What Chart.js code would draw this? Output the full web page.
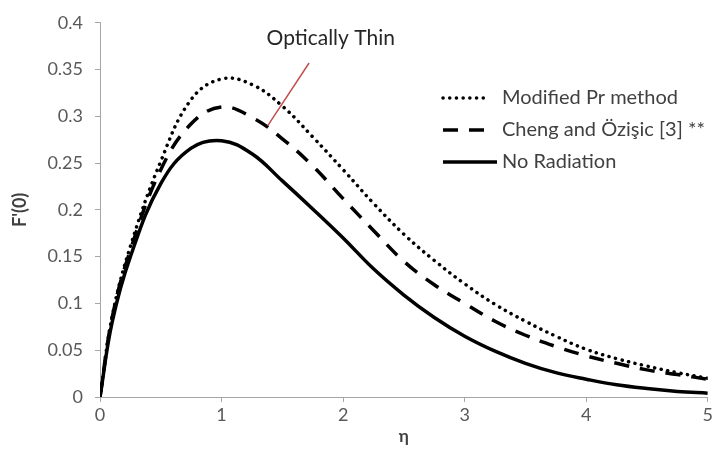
<!DOCTYPE html>
<html>
<head>
<meta charset="utf-8">
<script src="https://cdn.jsdelivr.net/npm/chart.js@4.4.0/dist/chart.umd.min.js"></script>
<style>
  html, body { margin: 0; padding: 0; background: #fff; }
</style>
</head>
<body>
<canvas id="c" width="715" height="451"></canvas>
<script>
// eta values and F'(0)
const eta = [0, 0.1, 0.25, 0.5, 0.75, 1, 1.25, 1.5, 1.75, 2, 2.25, 2.5, 2.75, 3, 3.25, 3.5, 3.75, 4, 4.25, 4.5, 4.75, 5];
const modifiedPr = [0, 0.086, 0.161, 0.252, 0.318, 0.340, 0.334, 0.311, 0.278, 0.243, 0.207, 0.174, 0.146, 0.121, 0.099, 0.081, 0.065, 0.051, 0.041, 0.033, 0.026, 0.020];
const chengOzisic = [0, 0.085, 0.157, 0.243, 0.292, 0.310, 0.299, 0.276, 0.247, 0.212, 0.178, 0.145, 0.120, 0.100, 0.081, 0.066, 0.054, 0.044, 0.036, 0.029, 0.024, 0.019];
const noRadiation = [0, 0.080, 0.150, 0.228, 0.266, 0.274, 0.260, 0.231, 0.201, 0.170, 0.137, 0.109, 0.085, 0.065, 0.049, 0.036, 0.026, 0.019, 0.013, 0.009, 0.006, 0.004];

const seriesNames = ['Modified Pr method', 'Cheng and Özişic [3] **', 'No Radiation'];
const noteText = 'Optically Thin';

const FONT = 'Lato, "Open Sans", sans-serif';

function pts(ys) {
    return eta.map((x, i) => ({x: x, y: ys[i]}));
}

// legend drawn inside the plot, Excel style
const legendPlugin = {
    id: 'xlLegend',
    afterDraw(chart) {
        const ctx = chart.ctx;
        const rows = [98, 130, 162];
        const ends = [488, 492, 497];
        ctx.save();
        chart.data.datasets.forEach((ds, i) => {
            const y = rows[i];
            ctx.beginPath();
            ctx.lineWidth = ds.borderWidth;
            ctx.strokeStyle = ds.borderColor;
            ctx.lineCap = ds.borderCapStyle || 'butt';
            ctx.setLineDash(ds.borderDash || []);
            ctx.moveTo(443, y);
            ctx.lineTo(ends[i], y);
            ctx.stroke();
            ctx.setLineDash([]);
            ctx.fillStyle = '#404040';
            ctx.font = '20px ' + FONT;
            ctx.textBaseline = 'middle';
            ctx.fillText(ds.label, 502, y);
        });
        ctx.restore();
    }
};

// "Optically Thin" pointer
const notePlugin = {
    id: 'note',
    afterDraw(chart) {
        const xs = chart.scales.x, ys = chart.scales.y;
        const ctx = chart.ctx;
        ctx.save();
        ctx.beginPath();
        ctx.strokeStyle = '#c0504d';
        ctx.lineWidth = 1.5;
        ctx.moveTo(xs.getPixelForValue(1.38), ys.getPixelForValue(0.290));
        ctx.lineTo(xs.getPixelForValue(1.72), ys.getPixelForValue(0.357));
        ctx.stroke();
        ctx.fillStyle = '#262626';
        ctx.font = '21px ' + FONT;
        ctx.textBaseline = 'middle';
        ctx.fillText(noteText, xs.getPixelForValue(1.37), ys.getPixelForValue(0.384));
        ctx.restore();
    }
};

const axisGrey = '#a6a6a6';

new Chart(document.getElementById('c'), {
    type: 'scatter',
    data: {
        datasets: [{
            label: seriesNames[0],
            data: pts(modifiedPr),
            showLine: true,
            borderColor: '#000',
            borderWidth: 3.5,
            borderDash: [0.1, 6.6],
            borderCapStyle: 'round',
            pointRadius: 0,
            tension: 0.4
        }, {
            label: seriesNames[1],
            data: pts(chengOzisic),
            showLine: true,
            borderColor: '#000',
            borderWidth: 3.5,
            borderDash: [15, 11],
            pointRadius: 0,
            tension: 0.4
        }, {
            label: seriesNames[2],
            data: pts(noRadiation),
            showLine: true,
            borderColor: '#000',
            borderWidth: 3.5,
            pointRadius: 0,
            tension: 0.4
        }]
    },
    options: {
        responsive: false,
        animation: false,
        layout: {padding: {left: 0, top: 18, right: 6, bottom: 0}},
        plugins: {
            legend: {display: false},
            tooltip: {enabled: false}
        },
        scales: {
            x: {
                type: 'linear',
                min: 0,
                max: 5,
                afterFit: s => { s.height = 54; },
                ticks: {stepSize: 1, color: '#595959', font: {family: FONT, size: 18}, padding: 2},
                grid: {drawOnChartArea: false, drawTicks: true, tickLength: 5, color: axisGrey},
                border: {color: axisGrey},
                title: {display: true, text: 'η', color: '#404040', font: {family: FONT, size: 17, weight: 'bold'}, padding: {top: 0, bottom: 4}}
            },
            y: {
                min: 0,
                max: 0.4,
                afterFit: s => { s.width = 100; },
                ticks: {
                    stepSize: 0.05,
                    color: '#595959',
                    font: {family: FONT, size: 18},
                    padding: 12,
                    callback: v => String(+v.toFixed(2))
                },
                grid: {drawOnChartArea: false, drawTicks: true, tickLength: 5, color: axisGrey},
                border: {color: axisGrey},
                title: {display: true, text: "F'(0)", color: '#404040', font: {family: FONT, size: 18, weight: 'bold'}, padding: {top: 9, bottom: 0}}
            }
        }
    },
    plugins: [legendPlugin, notePlugin]
});
</script>
</body>
</html>
